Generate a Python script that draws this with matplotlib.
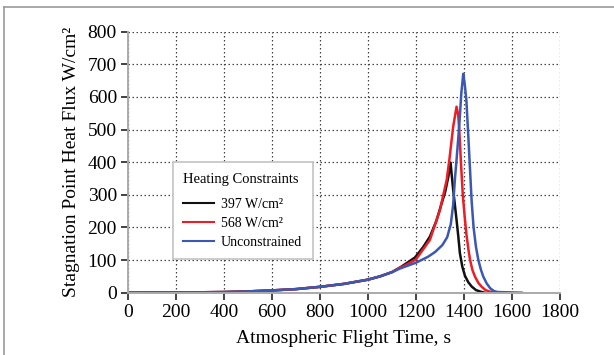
import matplotlib.pyplot as plt
from matplotlib.lines import Line2D


# heat flux histories (time in s, flux in W/cm^2)
t_397 = [0, 200, 400, 500, 600, 700, 800, 900, 1000, 1050, 1100, 1133, 1160,
         1196, 1230, 1258, 1285, 1307, 1322, 1335, 1344, 1349, 1355, 1362,
         1369, 1376, 1383, 1393, 1404, 1418, 1432, 1450, 1474, 1486]
q_397 = [0, 0.5, 2, 4, 7, 11, 18, 27, 40, 50, 63, 77, 90,
         108, 140, 172, 220, 274, 310, 356, 399, 360, 315, 270,
         223, 175, 121, 80, 52, 32, 19, 8, 2, 0]

t_568 = [0, 200, 400, 500, 600, 700, 800, 900, 1000, 1050, 1100, 1133, 1150,
         1200, 1258, 1300, 1328, 1339, 1355, 1369, 1376, 1381, 1388, 1395,
         1402, 1410, 1418, 1425, 1435, 1446, 1460, 1474, 1490, 1508, 1533]
q_568 = [0, 0.5, 2, 4, 7, 11, 18, 27, 40, 50, 63, 77, 82,
         102, 162, 254, 346, 407, 509, 570, 545, 490, 390, 300,
         240, 180, 135, 102, 70, 49, 30, 18, 8, 3, 0]

t_unc = [0, 200, 400, 500, 600, 700, 800, 900, 1000, 1050, 1100, 1133, 1200,
         1250, 1280, 1310, 1330, 1345, 1355, 1362, 1369, 1380, 1389, 1397,
         1403, 1410, 1418, 1425, 1432, 1440, 1450, 1460, 1470, 1480, 1495,
         1510, 1525, 1540, 1640]
q_unc = [0, 0.5, 2, 4, 7, 11, 18, 27, 40, 50, 63, 74, 92,
         110, 125, 146, 170, 210, 270, 346, 407, 509, 612, 671,
         640, 590, 480, 380, 280, 200, 140, 100, 72, 50, 28,
         13, 5, 2, 0]

labels = ["397 W/cm\u00b2", "568 W/cm\u00b2", "Unconstrained"]
colors = ["#111111", "#ee1c25", "#3a58b4"]

xticks = list(range(0, 1801, 200))
yticks = list(range(0, 801, 100))


def main():
    plt.rcParams["font.family"] = ["Liberation Serif", "DejaVu Serif"]

    fig = plt.figure(figsize=(6.14, 3.55), dpi=100)
    ax = fig.add_axes([0.2085, 0.1755, 0.7035, 0.7352])

    for t, q, lab, c in zip([t_397, t_568, t_unc], [q_397, q_568, q_unc], labels, colors):
        ax.plot(t, q, color=c, lw=1.8, label=lab)

    ax.set_xlim(0, 1800)
    ax.set_ylim(0, 800)
    ax.set_xticks(xticks)
    ax.set_yticks(yticks)
    ax.tick_params(labelsize=14, direction="out", length=5, width=1.2,
                   color="#222222", pad=3)
    ax.grid(True, linestyle=(0, (1.2, 2)), color="#444444", lw=0.9)
    ax.set_axisbelow(True)

    for s in ["top", "right"]:
        ax.spines[s].set_visible(False)
    for s in ["left", "bottom"]:
        ax.spines[s].set_color("#aaaaaa")
        ax.spines[s].set_linewidth(1.4)

    ax.set_xlabel("Atmospheric Flight Time, s", fontsize=14)
    ax.set_ylabel("Stagnation Point Heat Flux W/cm\u00b2", fontsize=14)
    ax.xaxis.set_label_coords(0.5, -0.142)
    ax.yaxis.set_label_coords(-0.111, 0.5)

    leg = ax.legend(loc="upper left", bbox_to_anchor=(0.104, 0.5),
                    title="Heating Constraints", fontsize=10,
                    title_fontsize=10.5, fancybox=False, framealpha=1,
                    edgecolor="#c4c4c4", handlelength=2.2, handletextpad=0.5,
                    labelspacing=0.42, borderpad=0.75, borderaxespad=0)
    leg._legend_box.align = "left"
    leg._legend_box.sep = 9
    leg.get_frame().set_linewidth(1.2)
    for h in leg.get_lines():
        h.set_linewidth(1.5)

    # thin frame round the picture, only top and left show
    fig.add_artist(Line2D([0.007, 1.0], [0.98, 0.98], color="#999999", lw=1.2))
    fig.add_artist(Line2D([0.007, 0.007], [0.0, 0.98], color="#999999", lw=1.2))

    fig.savefig("out.png", dpi=100)


if __name__ == "__main__":
    main()
